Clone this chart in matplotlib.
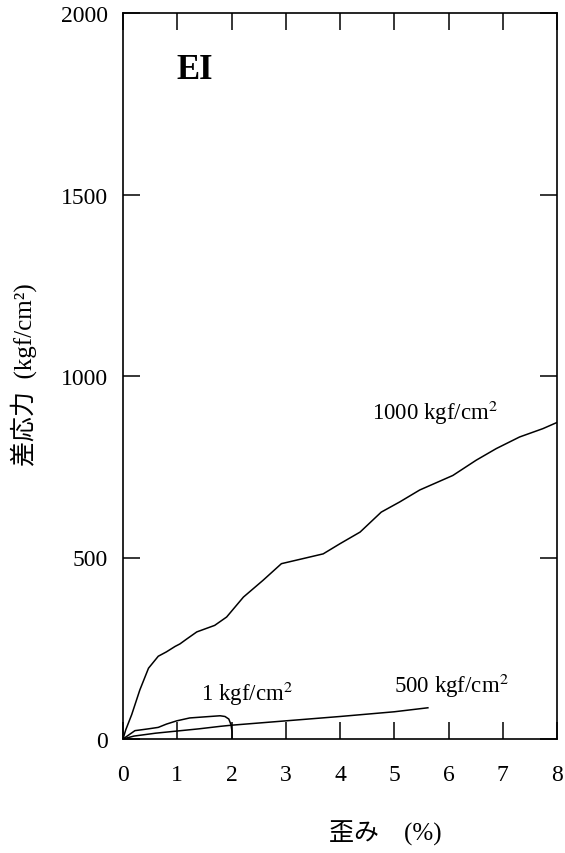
import matplotlib
matplotlib.use("Agg")
import matplotlib.pyplot as plt

plt.rcParams['font.family'] = ['Liberation Serif', 'Noto Sans CJK JP']
plt.rcParams['mathtext.fontset'] = 'stix'

# strain (%) / differential stress (kgf/cm2)
strain_1000 = [0, 0.05, 0.16, 0.31, 0.47, 0.65, 0.80, 0.96, 1.05, 1.17, 1.36, 1.69, 1.91,
               2.22, 2.58, 2.92, 3.32, 3.69, 4.0, 4.37, 4.76, 5.10, 5.47, 6.08, 6.51,
               6.88, 7.31, 7.74, 8.0]
stress_1000 = [0, 25, 67, 135, 195, 228, 240, 255, 262, 275, 295, 313, 336,
               391, 437, 483, 497, 510, 538, 570, 625, 653, 686, 726, 768,
               800, 832, 855, 872]

strain_1 = [0, 0.22, 0.47, 0.65, 0.80, 0.99, 1.23, 1.60, 1.79, 1.88, 1.95, 1.99, 2.01, 2.01]
stress_1 = [0, 23, 28, 32, 41, 50, 58, 62, 64, 62, 55, 40, 20, 0]

strain_500 = [0, 0.2, 0.6, 1.0, 1.4, 1.8, 2.0, 3.0, 4.0, 5.0, 5.62]
stress_500 = [0, 8, 16, 22, 28, 35, 38, 50, 62, 75, 86]

x_ticks = [0, 1, 2, 3, 4, 5, 6, 7, 8]
y_ticks = [0, 500, 1000, 1500, 2000]

fig = plt.figure(figsize=(5.65, 8.54), dpi=100)
ax = fig.add_axes([123/565, 1 - 740/854, 434/565, 726/854])

lw = 1.1
ax.plot(strain_1000, stress_1000, color='black', lw=lw)
ax.plot(strain_1, stress_1, color='black', lw=lw)
ax.plot(strain_500, stress_500, color='black', lw=lw)

ax.set_xlim(0, 8)
ax.set_ylim(0, 2000)
ax.set_xticks(x_ticks)
ax.set_yticks(y_ticks)
ax.tick_params(direction='in', length=12, width=1.1, top=True, right=True,
               labelsize=17, color='black')
ax.tick_params(axis='x', pad=18)
ax.tick_params(axis='y', pad=11)
for s in ax.spines.values():
    s.set_linewidth(1.2)

ax.text(1.33, 1843, 'EI', fontsize=25, fontweight='bold', ha='center', va='center')
ax.text(5.75, 902, '1000 kgf/cm$^2$', fontsize=16.5, ha='center', va='center')
ax.text(6.06, 149, '500 kgf/cm$^2$', fontsize=16.5, ha='center', va='center')
ax.text(2.29, 127, '1 kgf/cm$^2$', fontsize=16.5, ha='center', va='center')

fig.text(24/565, 1 - 375/854, '差応力  (kgf/cm²)', rotation=90, fontsize=18,
         ha='center', va='center')
fig.text(385/565, 1 - 833/854, '歪み    (%)', fontsize=18, ha='center', va='center')

fig.savefig('out.png', dpi=100)
